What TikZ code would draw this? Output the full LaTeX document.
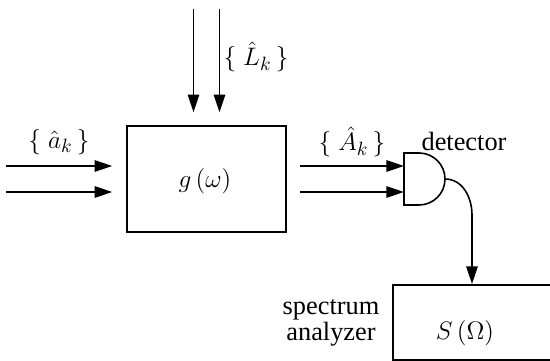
\documentclass[tikz,border=0pt]{standalone}
\usepackage{amsmath}
\usepackage{fontspec}
\setmainfont{Liberation Serif}
\usepackage{tikz}
\usetikzlibrary{arrows.meta,positioning,calc}
\tikzset{
  blk/.style={draw,line width=0.9pt,inner sep=0pt},
  lbl/.style={font=\rmfamily\fontsize{15}{15}\selectfont,inner sep=1pt}
}

\begin{document}
\begin{tikzpicture}[x=0.02cm,y=0.02cm,line width=0.9pt,>={Triangle[length=10pt,width=6.5pt]}]
\clip (0,0) rectangle (550,361);
% filter block
\node[blk,minimum width=3.18cm,minimum height=2.12cm] (gbox) at (206.5,182) {};
\node[lbl] (glab) at (205,180) {$g\,(\omega)$};
% input and local oscillator beams
\foreach \n/\dy in {1/13,2/-13} {
  \coordinate (in\n) at ($(gbox.west)+(-120,\dy)$);
  \draw[->] (in\n) -- ($(gbox.west)+(-14,\dy)$);
}
\foreach \n/\dx in {1/-13,2/13} {
  \coordinate (lo\n) at ($(gbox.north)+(\dx,116)$);
  \draw[->] (lo\n) -- ($(gbox.north)+(\dx,13)$);
}
\node[lbl] (alab) at (59,219) {$\{\;\hat{a}_k\,\}$};
\node[lbl] (llab) at (256,304) {$\{\;\hat{L}_k\,\}$};
% detector
\coordinate (det) at (404,182);
\draw (det) ++(0,26) -- ++(15,0) arc[start angle=90,end angle=-90,radius=26] -- ++(-15,0) -- cycle;
\coordinate (detout) at ($(det)+(41,0)$);
\node[lbl] (detlab) at (464,220) {detector};
\foreach \dy in {13,-13}
  \draw[->] ($(gbox.east)+(13,\dy)$) -- ($(det)+(0,\dy)$);
\node[lbl] (Alab) at (352,219) {$\{\;\hat{A}_k\,\}$};
% spectrum analyzer
\node[blk,anchor=north west,minimum width=3.4cm,minimum height=1.5cm] (sbox) at (392,77) {};
\node[lbl] (slab) at (465,28) {$S\,(\Omega)$};
\node[lbl,align=center] (salab) at (331,38) {spectrum\\analyzer};
\draw[->] (detout) to[out=0,in=90] ($(detout)+(27,-36)$) -- ($(sbox.north west)+(80,0)$);
\end{tikzpicture}
\end{document}
